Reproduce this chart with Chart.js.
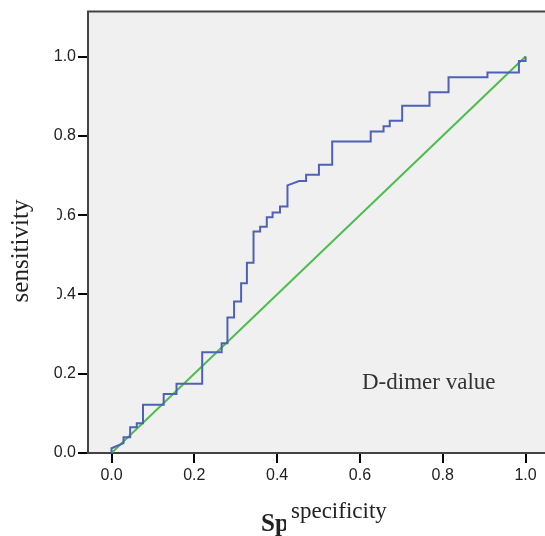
<!DOCTYPE html>
<html>
<head>
<meta charset="utf-8">
<script src="https://cdn.jsdelivr.net/npm/chart.js@4"></script>
<style>
  body { margin: 0; background: #fff; }
</style>
</head>
<body>
<canvas id="roc" width="545" height="536"></canvas>
<script>
// ROC curve corners (1 - specificity, sensitivity)
const rocX = [0, 0, 0.029, 0.029, 0.045, 0.045, 0.061, 0.061, 0.076, 0.076, 0.126, 0.126, 0.157, 0.157,
  0.219, 0.219, 0.266, 0.266, 0.280, 0.280, 0.296, 0.296, 0.313, 0.313, 0.327, 0.327, 0.343, 0.343,
  0.359, 0.359, 0.375, 0.375, 0.389, 0.389, 0.407, 0.407, 0.425, 0.425, 0.453, 0.470, 0.470, 0.501, 0.501,
  0.533, 0.533, 0.626, 0.626, 0.657, 0.657, 0.672, 0.672, 0.702, 0.702, 0.768, 0.768, 0.814, 0.814,
  0.908, 0.908, 0.984, 0.984, 1.0, 1.0];
const rocY = [0, 0.012, 0.025, 0.040, 0.040, 0.065, 0.065, 0.075, 0.075, 0.122, 0.122, 0.149, 0.149, 0.175,
  0.175, 0.254, 0.254, 0.277, 0.277, 0.342, 0.342, 0.382, 0.382, 0.428, 0.428, 0.480, 0.480, 0.559,
  0.559, 0.571, 0.571, 0.595, 0.595, 0.607, 0.607, 0.622, 0.622, 0.675, 0.686, 0.686, 0.702, 0.702, 0.727,
  0.727, 0.786, 0.786, 0.811, 0.811, 0.824, 0.824, 0.838, 0.838, 0.876, 0.876, 0.910, 0.910, 0.948,
  0.948, 0.960, 0.960, 0.989, 0.989, 1.0];
const refX = [0, 1];
const refY = [0, 1];
const tickValues = [0, 0.2, 0.4, 0.6, 0.8, 1.0];

const serif = '"Liberation Serif", "Times New Roman", serif';
const sans = '"Liberation Sans", Arial, sans-serif';

const extras = {
  id: 'extras',
  beforeDraw(chart) {
    const { ctx, chartArea: a } = chart;
    ctx.save();
    ctx.fillStyle = '#f0f0f0';
    ctx.fillRect(a.left, a.top, a.right - a.left, a.bottom - a.top);
    ctx.restore();
  },
  afterDraw(chart) {
    const { ctx, chartArea: a } = chart;
    ctx.save();
    // top frame line
    ctx.strokeStyle = '#444';
    ctx.lineWidth = 2;
    ctx.beginPath();
    ctx.moveTo(a.left - 1, a.top);
    ctx.lineTo(a.right, a.top);
    ctx.stroke();

    ctx.fillStyle = '#333';
    ctx.font = '23px ' + serif;
    ctx.textBaseline = 'alphabetic';
    ctx.textAlign = 'left';
    ctx.fillText('D-dimer value', 362, 389);

    // bold title hidden under the smaller one
    ctx.font = 'bold 25px ' + serif;
    ctx.fillStyle = '#222';
    ctx.fillText('Specificity', 261, 531);
    ctx.fillStyle = '#fff';
    ctx.fillRect(286, 492, 259, 44);
    ctx.fillStyle = '#222';
    ctx.font = '23px ' + serif;
    ctx.fillText('specificity', 291, 518);

    // y title with its white box
    ctx.fillStyle = '#fff';
    ctx.fillRect(0, 195, 57, 120);
    ctx.translate(28, 251);
    ctx.rotate(-Math.PI / 2);
    ctx.fillStyle = '#222';
    ctx.textAlign = 'center';
    ctx.font = '25px ' + serif;
    ctx.fillText('sensitivity', 0, 0);
    ctx.restore();
  }
};

new Chart(document.getElementById('roc'), {
  type: 'line',
  data: {
    datasets: [
      {
        data: rocX.map((x, i) => ({ x, y: rocY[i] })),
        borderColor: '#4f61b6',
        borderWidth: 2,
        pointRadius: 0,
        tension: 0
      },
      {
        data: refX.map((x, i) => ({ x, y: refY[i] })),
        borderColor: '#4cbd4c',
        borderWidth: 2,
        pointRadius: 0,
        tension: 0
      }
    ]
  },
  options: {
    responsive: false,
    animation: false,
    layout: { padding: { top: 11, right: 0, left: 0, bottom: 0 } },
    plugins: { legend: { display: false }, tooltip: { enabled: false } },
    scales: {
      x: {
        type: 'linear',
        min: -0.0568,
        max: 1.047,
        afterBuildTicks: s => { s.ticks = tickValues.map(v => ({ value: v })); },
        afterFit: s => { s.height = 83; },
        grid: { drawOnChartArea: false, drawTicks: true, tickLength: 10, color: '#000', lineWidth: 2 },
        border: { display: true, color: '#444', width: 2 },
        ticks: {
          color: '#222',
          padding: 3,
          font: { family: sans, size: 16 },
          callback: v => v.toFixed(1),
          maxRotation: 0
        }
      },
      y: {
        type: 'linear',
        min: 0,
        max: 1.1135,
        afterBuildTicks: s => { s.ticks = tickValues.map(v => ({ value: v })); },
        afterFit: s => { s.width = 88; },
        grid: { drawOnChartArea: false, drawTicks: true, tickLength: 10, color: '#000', lineWidth: 2 },
        border: { display: true, color: '#444', width: 2 },
        ticks: {
          color: '#222',
          padding: 2,
          font: { family: sans, size: 16 },
          callback: v => v.toFixed(1)
        }
      }
    }
  },
  plugins: [extras]
});
</script>
</body>
</html>
